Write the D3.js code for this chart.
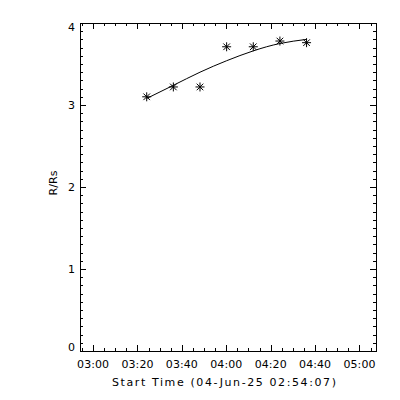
<!DOCTYPE html>
<html><head><meta charset="utf-8">
<script src="https://cdn.jsdelivr.net/npm/d3@7"></script>
<style>
html,body{margin:0;padding:0;background:#fff;}
text{font-family:"DejaVu Sans",sans-serif;font-size:11px;fill:#000;}
</style></head>
<body>
<svg id="c" width="400" height="400"></svg>
<script>
// Data
const startTime = "2025-06-04T02:54:07Z";
const obsTimes = ["03:24:10","03:36:10","03:48:10","04:00:10","04:12:10","04:24:10","04:36:10"];
const radius = [3.10, 3.22, 3.22, 3.71, 3.71, 3.78, 3.76];
const fitRadius = [3.08, 3.24, 3.40, 3.54, 3.66, 3.75, 3.80];
const xTickLabels = ["03:00","03:20","03:40","04:00","04:20","04:40","05:00"];
const yTickLabels = ["0","1","2","3","4"];
const xTitle = "Start Time (04-Jun-25 02:54:07)";
const yTitle = "R/Rs";

const svg = d3.select("#c");
const L = 80, R = 376, T = 23, B = 351;
const t0 = new Date(startTime);
const toDate = s => new Date("2025-06-04T" + s + "Z");
const x = d3.scaleUtc().domain([t0, new Date(t0.getTime() + 8000 * 1000)]).range([L, R]);
const y = d3.scaleLinear().domain([0, 4]).range([B, T]);

const g = svg.append("g");
g.append("rect").attr("x", L + 0.5).attr("y", T + 0.5).attr("width", R - L).attr("height", B - T)
  .attr("fill", "none").attr("stroke", "#000").attr("stroke-width", 1).attr("shape-rendering", "crispEdges");

const majorX = xTickLabels.map(toDate);
const minorX = d3.utcMinute.every(5).range(t0, x.domain()[1]);
const majorY = yTickLabels.map(Number);
const minorY = d3.range(0, 40).map(i => i / 10);

function tick(x1, y1, x2, y2) {
  g.append("line").attr("x1", x1).attr("y1", y1).attr("x2", x2).attr("y2", y2)
    .attr("stroke", "#000").attr("stroke-width", 1).attr("shape-rendering", "crispEdges");
}
minorX.forEach(d => { const px = Math.round(x(d)) + 0.5; tick(px, B, px, B - 3); tick(px, T, px, T + 3); });
majorX.forEach(d => { const px = Math.round(x(d)) + 0.5; tick(px, B, px, B - 6); tick(px, T, px, T + 6); });
minorY.forEach(v => { const py = Math.round(y(v)) + 0.5; tick(L, py, L + 3, py); tick(R, py, R - 3, py); });
majorY.forEach(v => { const py = Math.round(y(v)) + 0.5; tick(L, py, L + 6, py); tick(R, py, R - 6, py); });

// labels
majorX.forEach((d, i) => {
  g.append("text").attr("x", x(d)).attr("y", 368).attr("text-anchor", "middle")
    .attr("textLength", 32).attr("lengthAdjust", "spacing").text(xTickLabels[i]);
});
majorY.forEach((v, i) => {
  const off = v === 4 ? 4 : (v === 0 ? -4 : 0);
  g.append("text").attr("x", 75).attr("y", y(v) + 4 + off).attr("text-anchor", "end").text(yTickLabels[i]);
});
g.append("text").attr("x", 224).attr("y", 386).attr("text-anchor", "middle")
  .attr("textLength", 224).attr("lengthAdjust", "spacing").text(xTitle);
g.append("text").attr("transform", "translate(57,183) rotate(-90)").attr("text-anchor", "middle")
  .attr("textLength", 25).attr("lengthAdjust", "spacing").text(yTitle);

// fit curve
const fitData = obsTimes.map((t, i) => ({ t: toDate(t), r: fitRadius[i] }));
g.append("path").datum(fitData)
  .attr("d", d3.line().x(d => x(d.t)).y(d => y(d.r)).curve(d3.curveNatural))
  .attr("fill", "none").attr("stroke", "#000").attr("stroke-width", 1);

// asterisks
const pts = obsTimes.map((t, i) => ({ t: toDate(t), r: radius[i] }));
const star = "M0,-4.5V4.5M-4.5,0H4.5M-3.3,-3.3L3.3,3.3M-3.3,3.3L3.3,-3.3";
g.selectAll(".pt").data(pts).enter().append("path")
  .attr("transform", d => `translate(${x(d.t)},${y(d.r)})`)
  .attr("d", star).attr("stroke", "#000").attr("stroke-width", 1).attr("fill", "none");
</script>
</body></html>
